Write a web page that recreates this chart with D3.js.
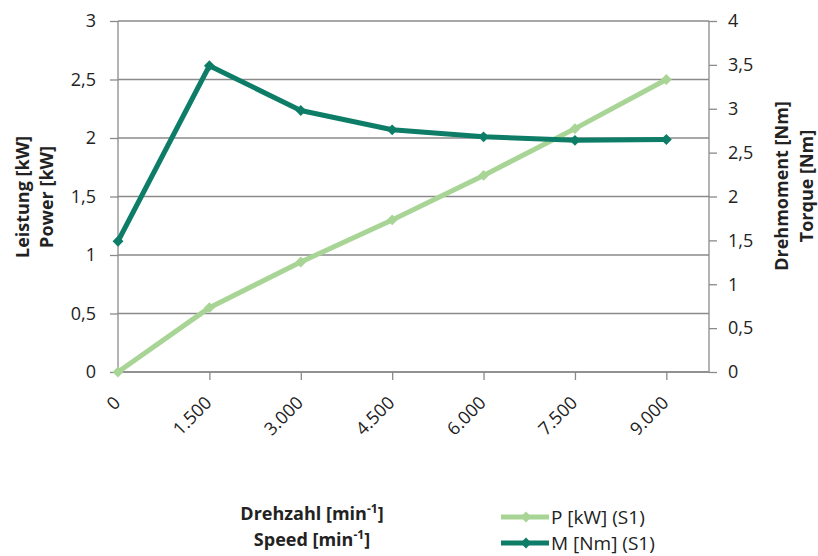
<!DOCTYPE html>
<html>
<head>
<meta charset="utf-8">
<script src="https://cdn.jsdelivr.net/npm/d3@7"></script>
<style>
  body { margin: 0; background: #fff; }
  text { font-family: "Open Sans", sans-serif; fill: #222; }
</style>
</head>
<body>
<div id="chart"></div>
<script>
var width = 818;
var height = 556;
var margin = { top: 21, bottom: 184, right: 109, left: 118 };

// data
var speeds = [0, 1500, 3000, 4500, 6000, 7500, 9000];
var power = [0, 0.55, 0.94, 1.30, 1.68, 2.08, 2.50];   // P [kW] (S1)
var torque = [1.49, 3.49, 2.98, 2.76, 2.68, 2.64, 2.65]; // M [Nm] (S1)
var leftTicks = [0, 0.5, 1, 1.5, 2, 2.5, 3];
var rightTicks = [0, 0.5, 1, 1.5, 2, 2.5, 3, 3.5, 4];

var lightGreen = "#a8d596";
var darkGreen = "#0e7d68";
var gridColor = "#8a8a8a";

var fmt = function(d) { return String(d).replace(".", ","); };
var fmtX = function(d) { return d === 0 ? "0" : d3.format(",")(d).replace(/,/g, "."); };

var svg = d3.select("#chart").append("svg")
  .attr("width", width)
  .attr("height", height);

var xScale = d3.scaleLinear()
  .domain([0, 9700])
  .range([margin.left, width - margin.right]);

var yLeft = d3.scaleLinear()
  .domain([0, 3])
  .range([height - margin.bottom, margin.top]);

var yRight = d3.scaleLinear()
  .domain([0, 4])
  .range([height - margin.bottom, margin.top]);

// gridlines
svg.append("g")
  .selectAll("line")
  .data(leftTicks)
  .enter()
  .append("line")
  .attr("x1", margin.left)
  .attr("x2", width - margin.right)
  .attr("y1", d => yLeft(d))
  .attr("y2", d => yLeft(d))
  .attr("stroke", gridColor)
  .attr("stroke-width", 1.3);

// axes
var axisL = d3.axisLeft(yLeft).tickValues(leftTicks).tickFormat(fmt).tickSize(8).tickPadding(14);
var axisR = d3.axisRight(yRight).tickValues(rightTicks).tickFormat(fmt).tickSize(8).tickPadding(11);
var axisB = d3.axisBottom(xScale).tickValues(speeds).tickFormat(fmtX).tickSize(8);

function styleAxis(g) {
  g.select(".domain").attr("stroke", gridColor).attr("stroke-width", 1.3);
  g.selectAll(".tick line").attr("stroke", gridColor).attr("stroke-width", 1.3);
  g.selectAll(".tick text").attr("font-size", "18px").attr("fill", "#222")
    .style("font-family", "'Open Sans', sans-serif");
}

svg.append("g")
  .attr("transform", "translate(" + margin.left + ",0)")
  .call(axisL)
  .call(styleAxis)
  .call(g => g.select(".domain").attr("d", "M0," + margin.top + "V" + (height - margin.bottom)));

svg.append("g")
  .attr("transform", "translate(" + (width - margin.right) + ",0)")
  .call(axisR)
  .call(styleAxis)
  .call(g => g.select(".domain").attr("d", "M0," + margin.top + "V" + (height - margin.bottom)));

var xAxisG = svg.append("g")
  .attr("transform", "translate(0," + (height - margin.bottom) + ")")
  .call(axisB)
  .call(styleAxis);

xAxisG.select(".domain").attr("d", "M" + margin.left + ",0H" + (width - margin.right));
xAxisG.selectAll(".tick").filter(d => d === 0).select("line").remove();
xAxisG.selectAll(".tick text")
  .attr("text-anchor", "end")
  .attr("dy", 0)
  .attr("x", 0)
  .attr("y", 0)
  .attr("transform", "translate(3,32) rotate(-45)");

// lines
var lineP = d3.line()
  .x((d, i) => xScale(speeds[i]))
  .y(d => yLeft(d));

var lineM = d3.line()
  .x((d, i) => xScale(speeds[i]))
  .y(d => yRight(d));

var diamond = d3.symbol().type(d3.symbolDiamond2).size(75);

svg.append("path")
  .datum(power)
  .attr("d", lineP)
  .attr("fill", "none")
  .attr("stroke", lightGreen)
  .attr("stroke-width", 5)
  .attr("stroke-linejoin", "round");

svg.append("g")
  .selectAll("path")
  .data(power)
  .enter()
  .append("path")
  .attr("d", diamond)
  .attr("transform", (d, i) => "translate(" + xScale(speeds[i]) + "," + yLeft(d) + ")")
  .attr("fill", lightGreen);

svg.append("path")
  .datum(torque)
  .attr("d", lineM)
  .attr("fill", "none")
  .attr("stroke", darkGreen)
  .attr("stroke-width", 5)
  .attr("stroke-linejoin", "round");

svg.append("g")
  .selectAll("path")
  .data(torque)
  .enter()
  .append("path")
  .attr("d", diamond)
  .attr("transform", (d, i) => "translate(" + xScale(speeds[i]) + "," + yRight(d) + ")")
  .attr("fill", darkGreen);

// axis titles
var titles = [
  { text: "Leistung [kW]", x: 29, y: 197 },
  { text: "Power [kW]", x: 53, y: 197 },
  { text: "Drehmoment [Nm]", x: 788, y: 186 },
  { text: "Torque [Nm]", x: 813, y: 186 }
];

svg.append("g")
  .selectAll("text")
  .data(titles)
  .enter()
  .append("text")
  .attr("transform", d => "translate(" + d.x + "," + d.y + ") rotate(-90)")
  .attr("text-anchor", "middle")
  .attr("font-size", "18px")
  .attr("font-weight", "bold")
  .text(d => d.text);

var xTitles = [
  { text: "Drehzahl [min", y: 520 },
  { text: "Speed [min", y: 546 }
];

var xt = svg.append("g")
  .selectAll("text")
  .data(xTitles)
  .enter()
  .append("text")
  .attr("x", 312)
  .attr("y", d => d.y)
  .attr("text-anchor", "middle")
  .attr("font-size", "18px")
  .attr("font-weight", "bold");
xt.append("tspan").text(d => d.text);
xt.append("tspan").attr("font-size", "12px").attr("dy", -7).text("-1");
xt.append("tspan").attr("dy", 7).text("]");

// legend
var legendItems = [
  { name: "P [kW] (S1)", color: lightGreen, y: 517 },
  { name: "M [Nm] (S1)", color: darkGreen, y: 543 }
];

var legend = svg.append("g")
  .selectAll("g")
  .data(legendItems)
  .enter()
  .append("g")
  .attr("transform", d => "translate(501," + d.y + ")");

legend.append("line")
  .attr("x1", 0).attr("x2", 48)
  .attr("stroke", d => d.color)
  .attr("stroke-width", 5);

legend.append("path")
  .attr("d", diamond)
  .attr("transform", "translate(25,0)")
  .attr("fill", d => d.color);

legend.append("text")
  .attr("x", 50)
  .attr("dy", "0.36em")
  .attr("font-size", "19px")
  .text(d => d.name);
</script>
</body>
</html>
